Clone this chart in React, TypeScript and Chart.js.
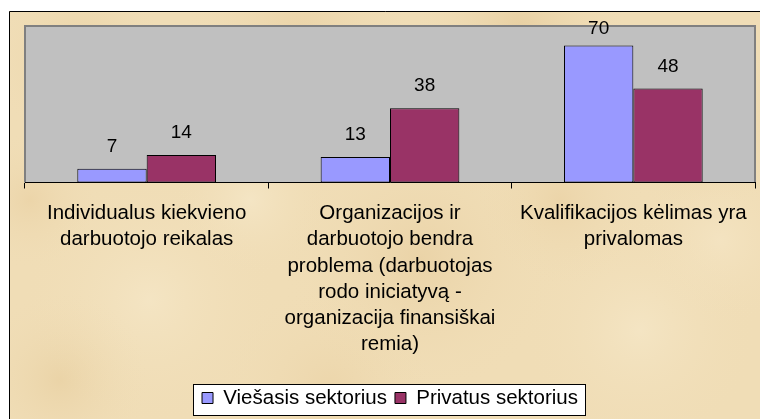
import React, { useEffect, useRef } from 'react';
import { Chart, registerables } from 'chart.js';

Chart.register(...registerables);

// ---- data ----
const categories: string[][] = [
  ['Individualus kiekvieno', 'darbuotojo reikalas'],
  ['Organizacijos ir', 'darbuotojo bendra', 'problema (darbuotojas', 'rodo iniciatyvą -', 'organizacija finansiškai', 'remia)'],
  ['Kvalifikacijos kėlimas yra', 'privalomas'],
];
const seriesNames = ['Viešasis sektorius', 'Privatus sektorius'];
const viesasisValues = [7, 13, 70];
const privatusValues = [14, 38, 48];
const yMin = 0;
const yMax = 80;

// ---- style ----
const FONT = '"Liberation Sans", Arial, Helvetica, sans-serif';
const BLUE = '#9999FF';
const MAROON = '#993366';
const W = 760;
const H = 419;

// decorative parchment blotches (x, y, radius, rgba)
const blotches: [number, number, number, string][] = [
  [80, 60, 90, 'rgba(222,190,130,0.40)'],
  [300, 40, 120, 'rgba(226,194,140,0.35)'],
  [520, 30, 110, 'rgba(218,184,126,0.35)'],
  [700, 120, 100, 'rgba(224,192,136,0.35)'],
  [150, 300, 130, 'rgba(250,240,215,0.40)'],
  [420, 260, 140, 'rgba(222,190,136,0.32)'],
  [640, 330, 120, 'rgba(250,240,215,0.40)'],
  [60, 380, 90, 'rgba(224,194,140,0.35)'],
  [330, 390, 110, 'rgba(228,198,146,0.32)'],
  [720, 240, 90, 'rgba(250,238,212,0.35)'],
  [250, 200, 80, 'rgba(252,244,222,0.35)'],
  [560, 200, 90, 'rgba(226,194,140,0.30)'],
  [30, 200, 70, 'rgba(226,194,140,0.30)'],
  [470, 130, 70, 'rgba(224,190,134,0.30)'],
];

const backgroundPlugin = {
  id: 'bgPlugin',
  beforeDraw(chart: any) {
    const { ctx, chartArea } = chart;
    ctx.save();
    ctx.fillStyle = '#FFFFFF';
    ctx.fillRect(0, 0, W, H);
    ctx.fillStyle = '#F0DDB6';
    ctx.fillRect(9, 11, W - 9, H - 11);
    ctx.beginPath();
    ctx.rect(10, 12, W - 10, H - 12);
    ctx.clip();
    blotches.forEach(([x, y, r, c]) => {
      const g = ctx.createRadialGradient(x, y, 0, x, y, r);
      g.addColorStop(0, c);
      g.addColorStop(1, 'rgba(240,221,182,0)');
      ctx.fillStyle = g;
      ctx.fillRect(x - r, y - r, 2 * r, 2 * r);
    });
    ctx.restore();

    ctx.save();
    // outer border
    ctx.strokeStyle = '#000000';
    ctx.lineWidth = 1;
    ctx.beginPath();
    ctx.moveTo(9.5, H + 2);
    ctx.lineTo(9.5, 11.5);
    ctx.lineTo(W + 2, 11.5);
    ctx.stroke();

    // plot area
    const { left, top, right, bottom } = chartArea;
    ctx.fillStyle = '#C0C0C0';
    ctx.fillRect(left, top, right - left, bottom - top);
    ctx.strokeStyle = '#808080';
    ctx.lineWidth = 2;
    ctx.beginPath();
    ctx.moveTo(left, bottom);
    ctx.lineTo(left, top);
    ctx.lineTo(right, top);
    ctx.lineTo(right, bottom);
    ctx.stroke();

    // legend box
    const hb = chart.legend && chart.legend.legendHitBoxes;
    if (hb && hb.length) {
      const first = hb[0];
      const last = hb[hb.length - 1];
      const cy = first.top + first.height / 2;
      const x0 = Math.round(first.left - 9) + 0.5;
      const x1 = Math.round(last.left + last.width + 7) + 0.5;
      const y0 = Math.round(cy - 14) + 0.5;
      const y1 = Math.round(cy + 17) + 0.5;
      ctx.fillStyle = '#FFFFFF';
      ctx.fillRect(x0, y0, x1 - x0, y1 - y0);
      ctx.strokeStyle = '#000000';
      ctx.lineWidth = 1;
      ctx.strokeRect(x0, y0, x1 - x0, y1 - y0);
    }
    ctx.restore();
  },
};

const valueLabelPlugin = {
  id: 'valueLabels',
  afterDatasetsDraw(chart: any) {
    const { ctx, chartArea } = chart;
    ctx.save();
    ctx.font = `19px ${FONT}`;
    ctx.fillStyle = '#000000';
    ctx.textAlign = 'center';
    ctx.textBaseline = 'middle';
    chart.data.datasets.forEach((ds: any, i: number) => {
      const meta = chart.getDatasetMeta(i);
      meta.data.forEach((bar: any, j: number) => {
        const y = Math.max(bar.y - 22, chartArea.top + 3);
        ctx.fillText(String(ds.data[j]), bar.x, y);
      });
    });
    ctx.restore();
  },
};

export default function App() {
  const canvasRef = useRef<HTMLCanvasElement | null>(null);

  useEffect(() => {
    const canvas = canvasRef.current;
    if (!canvas) return;
    const chart = new Chart(canvas, {
      type: 'bar',
      data: {
        labels: categories,
        datasets: [
          {
            label: seriesNames[0],
            data: viesasisValues,
            backgroundColor: BLUE,
            borderColor: '#000000',
            borderWidth: 1,
            borderSkipped: false,
            categoryPercentage: 0.57,
            barPercentage: 1,
          },
          {
            label: seriesNames[1],
            data: privatusValues,
            backgroundColor: MAROON,
            borderColor: '#000000',
            borderWidth: 1,
            borderSkipped: false,
            categoryPercentage: 0.57,
            barPercentage: 1,
          },
        ],
      },
      options: {
        responsive: false,
        animation: false,
        devicePixelRatio: 1,
        layout: { padding: { top: 26, left: 25, right: 5, bottom: 0.75 } },
        plugins: {
          legend: {
            display: true,
            position: 'bottom',
            labels: {
              boxWidth: 11,
              boxHeight: 11,
              padding: 8,
              color: '#000000',
              font: { family: FONT, size: 20.5 },
            },
          },
          tooltip: { enabled: false },
          title: { display: false },
        },
        scales: {
          x: {
            grid: {
              display: true,
              drawOnChartArea: false,
              drawTicks: true,
              tickLength: 6,
              color: '#000000',
              offset: true,
            },
            border: { display: true, color: '#000000', width: 1 },
            ticks: {
              color: '#000000',
              font: { family: FONT, size: 20.5, lineHeight: '26.3px' },
              padding: 11.6,
              maxRotation: 0,
              minRotation: 0,
              autoSkip: false,
            },
            afterFit: (scale: any) => {
              scale.height = 197.25;
            },
          },
          y: {
            display: false,
            min: yMin,
            max: yMax,
          },
        },
      },
      plugins: [backgroundPlugin, valueLabelPlugin],
    } as any);
    return () => chart.destroy();
  }, []);

  return (
    <div style={{ position: 'fixed', left: 0, top: 0, width: W, height: H }}>
      <canvas ref={canvasRef} width={W} height={H} style={{ display: 'block', width: W, height: H }} />
    </div>
  );
}
